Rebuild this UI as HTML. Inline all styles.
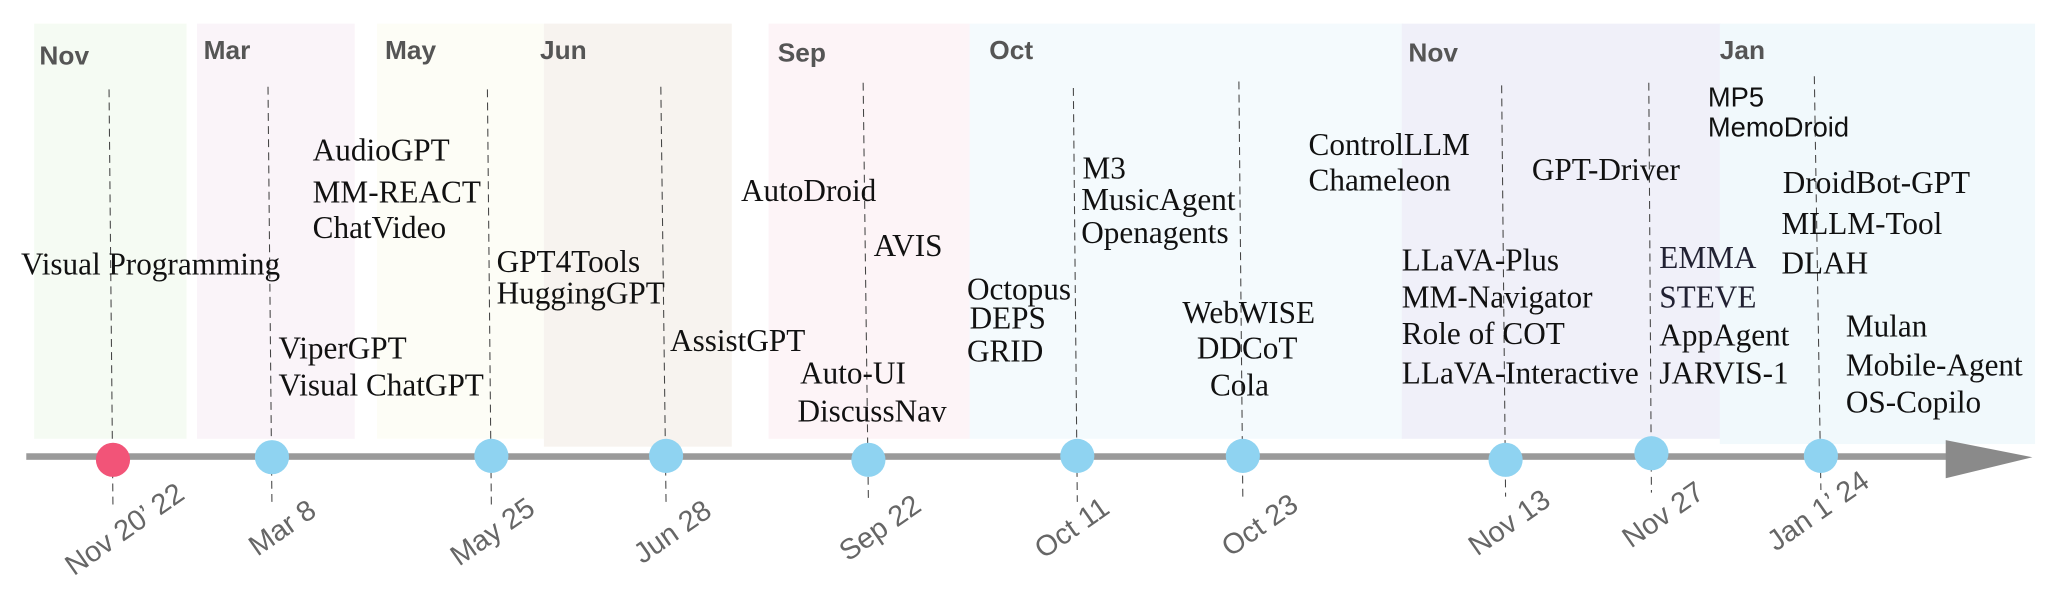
<!DOCTYPE html>
<html><head><meta charset="utf-8"><style>
html,body{margin:0;padding:0;background:#fff;overflow:hidden}
#wrap{position:absolute;left:0;top:0;width:1568px;height:451px;transform:scale(1.31378);transform-origin:0 0}
.b{position:absolute;top:18px;height:316px}
.m{position:absolute;top:28px;font:bold 20px "Liberation Sans",sans-serif;color:#555}
.t{position:absolute;font:24px/26px "Liberation Serif",serif;color:#111;white-space:nowrap;transform:scaleX(0.99);transform-origin:0 50%}
.d{position:absolute;font:22px "Liberation Sans",sans-serif;color:#666;white-space:nowrap;transform:translate(-50%,-50%) rotate(-35deg)}
</style></head><body><div id="wrap">
<div class="b" style="left:26px;width:116px;background:#f5fbf3"></div>
<div class="b" style="left:150px;width:120px;background:#faf4f9"></div>
<div class="b" style="left:287px;width:127px;background:#fdfdf6"></div>
<div class="b" style="left:414px;width:143px;height:322px;background:#f7f3ef"></div>
<div class="b" style="left:585px;width:153px;background:#fdf4f7"></div>
<div class="b" style="left:738px;width:330px;background:#f4fafd"></div>
<div class="b" style="left:1067px;width:243px;background:#f0f0f9"></div>
<div class="b" style="left:1309px;width:240px;height:320px;background:#f1f9fc"></div>
<div class="m" style="left:30px;top:32px">Nov</div>
<div class="m" style="left:155px">Mar</div>
<div class="m" style="left:293px">May</div>
<div class="m" style="left:411px">Jun</div>
<div class="m" style="left:592px;top:30px">Sep</div>
<div class="m" style="left:753px">Oct</div>
<div class="m" style="left:1072px;top:30px">Nov</div>
<div class="m" style="left:1309px">Jan</div>
<svg style="position:absolute;left:0;top:0" width="1568" height="451">
<g stroke="#444" stroke-width="0.8" stroke-dasharray="6,4" fill="none">
<line x1="83" y1="68" x2="86" y2="388"/><line x1="204" y1="66" x2="207" y2="385"/>
<line x1="371" y1="68" x2="374" y2="385"/><line x1="503" y1="66" x2="507" y2="385"/>
<line x1="657" y1="63" x2="661" y2="382"/><line x1="817" y1="67" x2="820" y2="382"/>
<line x1="943" y1="62" x2="946" y2="380"/><line x1="1143" y1="65" x2="1146" y2="378"/>
<line x1="1255" y1="63" x2="1257" y2="375"/><line x1="1381" y1="58" x2="1386" y2="373"/>
</g>
<rect x="20" y="345" width="1465" height="5" fill="#9a9a9a"/>
<polygon points="1481,335 1547,348 1481,364" fill="#8a8a8a"/>
<ellipse cx="86" cy="350" rx="13" ry="13" fill="#f25478"/>
<g fill="#8fd3f1">
<circle cx="207" cy="348" r="13"/><circle cx="374" cy="347" r="13"/><circle cx="507" cy="347" r="13"/>
<circle cx="661" cy="350" r="13"/><circle cx="820" cy="347" r="13"/><circle cx="946" cy="347" r="13"/>
<circle cx="1146" cy="350" r="13"/><circle cx="1257" cy="345" r="13"/><circle cx="1386" cy="347" r="13"/>
</g></svg>
<div class="t" style="left:16px;top:189px">Visual Programming</div>
<div class="t" style="left:238px;top:102px">AudioGPT</div>
<div class="t" style="left:238px;top:134px">MM-REACT</div>
<div class="t" style="left:238px;top:161px">ChatVideo</div>
<div class="t" style="left:212px;top:253px">ViperGPT</div>
<div class="t" style="left:212px;top:281px">Visual ChatGPT</div>
<div class="t" style="left:378px;top:187px">GPT4Tools</div>
<div class="t" style="left:378px;top:211px">HuggingGPT</div>
<div class="t" style="left:510px;top:247px">AssistGPT</div>
<div class="t" style="left:564px;top:133px">AutoDroid</div>
<div class="t" style="left:665px;top:175px">AVIS</div>
<div class="t" style="left:609px;top:272px">Auto-UI</div>
<div class="t" style="left:607px;top:301px">DiscussNav</div>
<div class="t" style="left:736px;top:208px">Octopus</div>
<div class="t" style="left:738px;top:230px">DEPS</div>
<div class="t" style="left:736px;top:255px">GRID</div>
<div class="t" style="left:824px;top:116px">M3</div>
<div class="t" style="left:823px;top:140px">MusicAgent</div>
<div class="t" style="left:823px;top:165px">Openagents</div>
<div class="t" style="left:900px;top:226px">WebWISE</div>
<div class="t" style="left:911px;top:253px">DDCoT</div>
<div class="t" style="left:921px;top:281px">Cola</div>
<div class="t" style="left:996px;top:98px">ControlLLM</div>
<div class="t" style="left:996px;top:125px">Chameleon</div>
<div class="t" style="left:1166px;top:117px">GPT-Driver</div>
<div class="t" style="left:1067px;top:186px">LLaVA-Plus</div>
<div class="t" style="left:1067px;top:214px">MM-Navigator</div>
<div class="t" style="left:1067px;top:242px">Role of COT</div>
<div class="t" style="left:1067px;top:272px">LLaVA-Interactive</div>
<div class="t" style="left:1263px;top:184px;color:#223">EMMA</div>
<div class="t" style="left:1263px;top:214px;color:#223">STEVE</div>
<div class="t" style="left:1263px;top:243px">AppAgent</div>
<div class="t" style="left:1263px;top:272px">JARVIS-1</div>
<div class="t" style="left:1300px;top:62px;font-family:'Liberation Sans',sans-serif;font-size:21px">MP5</div>
<div class="t" style="left:1300px;top:85px;font-family:'Liberation Sans',sans-serif;font-size:21px">MemoDroid</div>
<div class="t" style="left:1357px;top:127px">DroidBot-GPT</div>
<div class="t" style="left:1356px;top:158px">MLLM-Tool</div>
<div class="t" style="left:1356px;top:188px">DLAH</div>
<div class="t" style="left:1405px;top:236px">Mulan</div>
<div class="t" style="left:1405px;top:266px">Mobile-Agent</div>
<div class="t" style="left:1405px;top:294px">OS-Copilo</div>
<div class="d" style="left:95px;top:403px">Nov 20’ 22</div>
<div class="d" style="left:215px;top:402px">Mar 8</div>
<div class="d" style="left:375px;top:405px">May 25</div>
<div class="d" style="left:512px;top:405px">Jun 28</div>
<div class="d" style="left:670px;top:402px">Sep 22</div>
<div class="d" style="left:816px;top:402px">Oct 11</div>
<div class="d" style="left:959px;top:400px">Oct 23</div>
<div class="d" style="left:1149px;top:398px">Nov 13</div>
<div class="d" style="left:1266px;top:392px">Nov 27</div>
<div class="d" style="left:1384px;top:389px">Jan 1’ 24</div>
</div></body></html>
